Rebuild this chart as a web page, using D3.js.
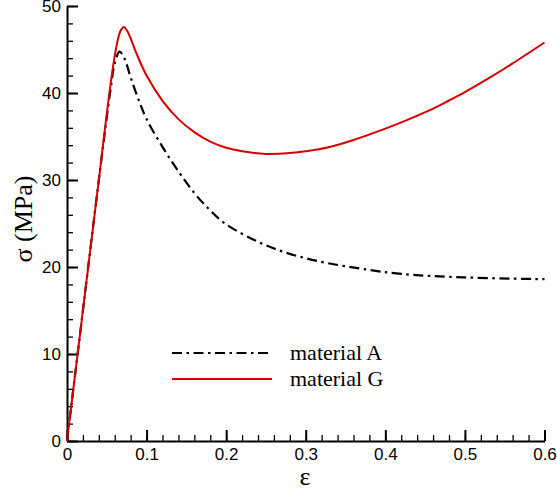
<!DOCTYPE html>
<html lang="en">
<head>
<meta charset="UTF-8">
<title>Stress-strain</title>
<style>
body { margin: 0; background: #fff; }
svg { display: block; }
.tick text { font-family: "Liberation Sans", Arial, sans-serif; font-size: 17px; fill: #000; }
</style>
</head>
<body>
<div id="plot"></div>
<script src="https://cdn.jsdelivr.net/npm/d3@7/dist/d3.min.js"></script>
<script>

const w = 557,
      h = 491;

// material A (black dash-dot)
const strainA = [0, 0.02, 0.04, 0.055, 0.06, 0.066, 0.072, 0.08, 0.09, 0.1, 0.12, 0.14, 0.16, 0.18, 0.2, 0.24, 0.27, 0.3, 0.33, 0.37, 0.42, 0.5, 0.6];
const stressA = [0, 15, 30, 40.6, 43.4, 44.75, 44.0, 41.8, 39.2, 37.0, 33.8, 31.0, 28.5, 26.5, 24.9, 22.9, 21.8, 21.0, 20.4, 19.8, 19.2, 18.8, 18.6];

// material G (red)
const strainG = [0, 0.02, 0.04, 0.055, 0.062, 0.067, 0.0715, 0.077, 0.087, 0.1, 0.12, 0.14, 0.16, 0.18, 0.2, 0.22, 0.25, 0.28, 0.3, 0.33, 0.36, 0.4, 0.43, 0.46, 0.475, 0.5, 0.53, 0.56, 0.6];
const stressG = [0, 15, 30, 41.2, 45.3, 47.1, 47.6, 46.9, 44.6, 42.0, 39.1, 37.0, 35.5, 34.4, 33.7, 33.3, 33.0, 33.1, 33.3, 33.8, 34.6, 35.9, 37.0, 38.2, 38.9, 40.1, 41.7, 43.4, 45.8];

const xTicks = [0, 0.1, 0.2, 0.3, 0.4, 0.5, 0.6];
const yTicks = [0, 10, 20, 30, 40, 50];
const legendNames = ["material A", "material G"];

const x = d3.scaleLinear().domain([0, 0.6]).range([67, 544.5]);
const y = d3.scaleLinear().domain([0, 50]).range([441, 6]);

const svg = d3.select("#plot").append("svg")
    .attr("width", w)
    .attr("height", h);

// minor ticks
const xMinor = d3.range(0, 0.6001, 0.02);
const yMinor = d3.range(0, 50.001, 2);

svg.append("g")
    .attr("transform", `translate(0,${y(0)})`)
    .call(d3.axisBottom(x).tickValues(xMinor).tickSize(-6).tickSizeOuter(0).tickFormat(""))
    .call(g => g.select(".domain").remove())
    .call(g => g.selectAll("line").attr("stroke", "#000").attr("stroke-width", 1.3));

svg.append("g")
    .attr("transform", `translate(${x(0)},0)`)
    .call(d3.axisLeft(y).tickValues(yMinor).tickSize(-6).tickSizeOuter(0).tickFormat(""))
    .call(g => g.select(".domain").remove())
    .call(g => g.selectAll("line").attr("stroke", "#000").attr("stroke-width", 1.3));

// major ticks + labels
svg.append("g")
    .attr("transform", `translate(0,${y(0)})`)
    .call(d3.axisBottom(x).tickValues(xTicks).tickSize(-11).tickSizeOuter(0).tickPadding(7)
        .tickFormat(d => d === 0 ? "0" : d3.format(".1f")(d)))
    .call(g => g.select(".domain").attr("stroke", "#000").attr("stroke-width", 2))
    .call(g => g.selectAll(".tick line").attr("stroke", "#000").attr("stroke-width", 2));

svg.append("g")
    .attr("transform", `translate(${x(0)},0)`)
    .call(d3.axisLeft(y).tickValues(yTicks).tickSize(-11).tickSizeOuter(0).tickPadding(6))
    .call(g => g.select(".domain").attr("stroke", "#000").attr("stroke-width", 2))
    .call(g => g.selectAll(".tick line").attr("stroke", "#000").attr("stroke-width", 2));

// axis titles
svg.append("text")
    .attr("transform", "translate(32,219) rotate(-90)")
    .attr("text-anchor", "middle")
    .attr("font-family", "'Liberation Serif', 'Times New Roman', serif")
    .attr("font-size", 26)
    .text("σ (MPa)");

svg.append("text")
    .attr("x", 305)
    .attr("y", 485)
    .attr("text-anchor", "middle")
    .attr("font-family", "'Liberation Serif', 'Times New Roman', serif")
    .attr("font-size", 26)
    .text("ε");

// lines
const line = d3.line()
    .x(d => x(d[0]))
    .y(d => y(d[1]))
    .curve(d3.curveCatmullRom.alpha(0.5));

const seriesA = strainA.map((s, i) => [s, stressA[i]]);
const seriesG = strainG.map((s, i) => [s, stressG[i]]);

svg.append("path")
    .datum(seriesA)
    .attr("d", line)
    .attr("fill", "none")
    .attr("stroke", "#000")
    .attr("stroke-width", 2.2)
    .attr("stroke-dasharray", "10,4.5,2.5,4.5");

svg.append("path")
    .datum(seriesG)
    .attr("d", line)
    .attr("fill", "none")
    .attr("stroke", "#d40000")
    .attr("stroke-width", 2);

// legend
const legendY = [353, 379];
const legendStyle = [
    {stroke: "#000", dash: "10,4.5,2.5,4.5", width: 2.2},
    {stroke: "#d40000", dash: null, width: 2}
];

legendNames.forEach((name, i) => {
    svg.append("line")
        .attr("x1", 172).attr("x2", 272)
        .attr("y1", legendY[i]).attr("y2", legendY[i])
        .attr("stroke", legendStyle[i].stroke)
        .attr("stroke-width", legendStyle[i].width)
        .attr("stroke-dasharray", legendStyle[i].dash);
    svg.append("text")
        .attr("x", 290)
        .attr("y", legendY[i] + 6.5)
        .attr("font-family", "'Liberation Serif', 'Times New Roman', serif")
        .attr("font-size", 22)
        .text(name);
});
</script>
</body>
</html>
